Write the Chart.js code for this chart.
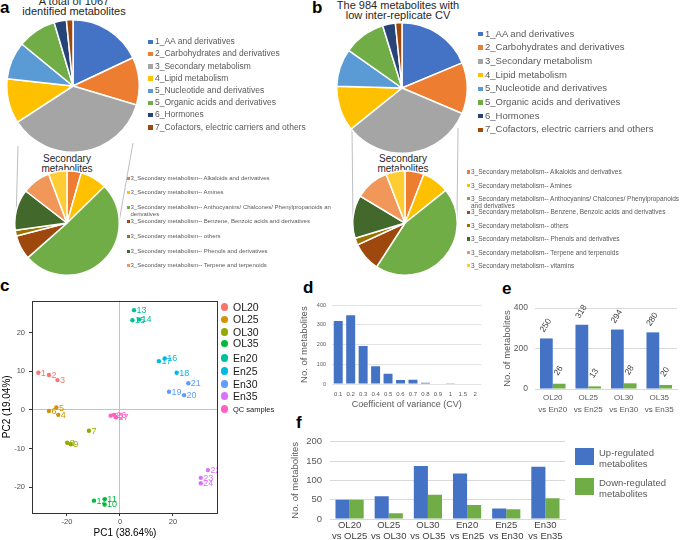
<!DOCTYPE html>
<html>
<head>
<meta charset="utf-8">
<script src="https://cdn.jsdelivr.net/npm/chart.js@4.4.1/dist/chart.umd.min.js"></script>
<style>
  body { margin: 0; width: 685px; height: 540px; position: relative; overflow: hidden; background: #fff;
         font-family: "Liberation Sans", Arial, sans-serif; }
  canvas { position: absolute; }
  .letter { position: absolute; font-weight: bold; font-size: 17px; line-height: 17px; color: #000; }
  .ttl { position: absolute; text-align: center; color: #262626; white-space: nowrap; }
  .lg { position: absolute; white-space: nowrap; color: #595959; }
  .sq { position: absolute; }
  .clip { position: absolute; left: 0; top: 0; overflow: hidden; height: 540px; }
</style>
</head>
<body>
<svg width="685" height="540" style="position:absolute;left:0;top:0">
  <g stroke="#bfbfbf" stroke-width="1" fill="none">
    <line x1="18" y1="146" x2="16" y2="222"/>
    <line x1="133" y1="143" x2="119" y2="222"/>
    <line x1="352" y1="128" x2="353" y2="222"/>
    <line x1="458" y1="128" x2="457" y2="222"/>
  </g>
</svg>

<div class="letter" style="left:0;top:-1px">a</div>
<div class="letter" style="left:312px;top:-1px">b</div>
<div class="letter" style="left:0;top:277px">c</div>
<div class="letter" style="left:303px;top:279px">d</div>
<div class="letter" style="left:502px;top:280px">e</div>
<div class="letter" style="left:296px;top:414px">f</div>

<div class="ttl" style="left:-6px;width:160px;top:-4px;font-size:11px;line-height:10px">A total of 1067<br>identified metabolites</div>
<div class="ttl" style="left:318px;width:160px;top:1px;font-size:11px;line-height:9.5px">The 984 metabolites with<br>low inter-replicate CV</div>
<div class="ttl" style="left:17px;width:100px;top:154px;font-size:10px;line-height:9.5px;background:transparent">Secondary<br>metabolites</div>
<div class="ttl" style="left:353px;width:100px;top:154px;font-size:10px;line-height:9.5px">Secondary<br>metabolites</div>

<script>
// ---- data -------------------------------------------------------------
const mainCategories = ['1_AA and derivatives', '2_Carbohydrates and derivatives', '3_Secondary metabolism',
  '4_Lipid metabolism', '5_Nucleotide and derivatives', '5_Organic acids and derivatives', '6_Hormones',
  '7_Cofactors, electric carriers and others'];
const totalCounts = [192, 124, 386, 117, 98, 101, 32, 17];      // 1067 metabolites
const lowCvCounts = [184, 125, 323, 110, 92, 103, 31, 16];      // 984 metabolites

const secondaryCategories = ['Alkaloids and derivatives', 'Amines',
  'Anthocyanins/ Chalcones/ Phenylpropanoids and derivatives', 'Benzene, Benzoic acids and derivatives',
  'others', 'Phenols and derivatives', 'Terpene and terpenoids', 'vitamins'];
const secondaryTotal = [17, 32, 196, 29, 7, 49, 34, 22];
const secondaryLowCv = [19, 27, 145, 29, 7, 43, 34, 19];

const pcaGroups = ['OL20', 'OL25', 'OL30', 'OL35', 'En20', 'En25', 'En30', 'En35', 'QC samples'];
const sampleIds = ['1','2','3','4','5','6','7','8','9','10','11','12','13','14','15','16','17','18',
  '19','20','21','22','23','24','25','26','27'];
const sampleGroup = [0,0,0, 1,1,1, 2,2,2, 3,3,3, 4,4,4, 5,5,5, 6,6,6, 7,7,7, 8,8,8];
const pc1 = [-30.8, -26.8, -23.6, -23.3, -24.0, -26.8, -11.7, -19.9, -18.6, -5.8, -5.7, -9.8,
  5.3, 7.2, 4.7, 16.9, 14.7, 21.4, 18.5, 24.2, 25.8, 33.2, 30.5, 30.5, -3.5, -2.3, -1.5];
const pc2 = [9.6, 9.0, 7.7, -1.3, 0.6, -0.3, -5.4, -8.5, -8.9, -24.5, -23.1, -23.5,
  25.8, 23.4, 23.2, 13.3, 12.6, 9.6, 4.7, 3.8, 6.9, -15.6, -17.6, -19.0, -1.5, -1.3, -1.9];
const pc1Ticks = [-20, 0, 20];
const pc2Ticks = [-20, -10, 0, 10, 20];

const cvBins = ['0.1','0.2','0.3','0.4','0.5','0.6','0.7','0.8','0.9','1','1.5','2'];
const cvCounts = [320, 350, 193, 90, 52, 20, 21, 6, 3, 1, 2, 2];

const tempPairs = [['OL20','vs En20'], ['OL25','vs En25'], ['OL30','vs En30'], ['OL35','vs En35']];
const pairBlue = [250, 318, 294, 280];
const pairGreen = [26, 13, 28, 20];

const stepPairs = [['OL20','vs OL25'], ['OL25','vs OL30'], ['OL30','vs OL35'],
  ['En20','vs En25'], ['En25','vs En30'], ['En30','vs En35']];
const upRegulated = [50, 59, 137, 118, 27, 135];
const downRegulated = [50, 15, 63, 36, 25, 54];

// ---- styles -----------------------------------------------------------
const mainColors = ['#4472C4', '#ED7D31', '#A5A5A5', '#FFC000', '#5B9BD5', '#70AD47', '#264478', '#9E480E'];
const secColors = ['#ED7D31', '#FFC000', '#70AD47', '#9E480E', '#997300', '#43682B', '#F1975A', '#FFCD33'];
const groupColors = ['#F8766D', '#D39200', '#93AA00', '#00BA38', '#00C19F', '#00B9E3', '#619CFF', '#DB72FB', '#FF61C3'];
const BLUE = '#4472C4', GREEN = '#70AD47', AXIS_TXT = '#595959';

Chart.defaults.font.family = '"Liberation Sans", Arial, sans-serif';
Chart.defaults.animation = false;
Chart.defaults.plugins.legend.display = false;
Chart.defaults.plugins.tooltip.enabled = false;

function place(left, top, w, h) {
  const c = document.createElement('canvas');
  c.width = w; c.height = h;
  c.style.left = left + 'px'; c.style.top = top + 'px';
  c.style.width = w + 'px'; c.style.height = h + 'px';
  document.body.appendChild(c);
  return c;
}

function pie(left, top, size, labels, values, colors) {
  new Chart(place(left, top, size, size), {
    type: 'pie',
    data: { labels: labels, datasets: [{ data: values, backgroundColor: colors, borderColor: '#fff', borderWidth: 1.5 }] },
    options: { responsive: false, layout: { padding: 0 } }
  });
}

// html legends, text stays real text
function legend(names, colors, o) {
  const box = document.createElement('div');
  box.className = 'clip';
  box.style.width = (o.clipRight || 685) + 'px';
  document.body.appendChild(box);
  const lh = o.font * 1.15;
  names.forEach((name, i) => {
    const y = o.y0 + i * o.dy;
    const sq = document.createElement('div');
    sq.className = 'sq';
    Object.assign(sq.style, { left: o.x + 'px', top: (y - o.sq / 2) + 'px', width: o.sq + 'px', height: o.sq + 'px', background: colors[i] });
    box.appendChild(sq);
    name.split('\n').forEach((line, k) => {
      const t = document.createElement('div');
      t.className = 'lg';
      t.textContent = line;
      Object.assign(t.style, { left: o.tx + 'px', top: (y - lh / 2 + k * (o.wrap || 0)) + 'px', fontSize: o.font + 'px', lineHeight: lh + 'px' });
      box.appendChild(t);
    });
  });
}

// ---- panel a / b pies -------------------------------------------------
pie(6, 19, 134, mainCategories, totalCounts, mainColors);
pie(336, 22, 132, mainCategories, lowCvCounts, mainColors);
pie(14, 170, 106, secondaryCategories, secondaryTotal, secColors);
pie(352, 170, 106, secondaryCategories, secondaryLowCv, secColors);

legend(mainCategories, mainColors, { x: 148, tx: 155, y0: 42, dy: 12.2, font: 8.5, sq: 4.5 });
legend(mainCategories, mainColors, { x: 478, tx: 485, y0: 34, dy: 13.7, font: 9.5, sq: 4.5 });

const secPrefix = '3_Secondary metabolism-- ';
const secLegendA = secondaryCategories.slice(0, 7).map(s => secPrefix +
  (s.startsWith('Antho') ? 'Anthocyanins/ Chalcones/ Phenylpropanoids and\nderivatives' : s));
const secLegendB = secondaryCategories.map(s => secPrefix +
  (s.startsWith('Antho') ? 'Anthocyanins/ Chalcones/ Phenylpropanoids\nand derivatives' : s));
legend(secLegendA, secColors, { x: 127, tx: 130.5, y0: 178, dy: 14.6, font: 6, sq: 3, wrap: 7.5, clipRight: 331 });
legend(secLegendB, secColors, { x: 467, tx: 471, y0: 172, dy: 13.4, font: 6.5, sq: 3.3, wrap: 7 });

// ---- panel c PCA ------------------------------------------------------
const frame = {
  id: 'frame',
  afterDraw(chart, args, opts) {
    const a = chart.chartArea, ctx = chart.ctx;
    ctx.save();
    ctx.strokeStyle = opts.color || '#333';
    ctx.lineWidth = 1;
    ctx.strokeRect(Math.round(a.left) + 0.5, Math.round(a.top) + 0.5, Math.round(a.width) - 1, Math.round(a.height) - 1);
    ctx.restore();
  }
};

const pointLabels = {
  id: 'pointLabels',
  afterDatasetsDraw(chart) {
    const a = chart.chartArea, ctx = chart.ctx;
    ctx.save();
    ctx.beginPath();
    ctx.rect(a.left, a.top, a.width, a.height);
    ctx.clip();
    ctx.font = '9px "Liberation Sans", Arial, sans-serif';
    ctx.textBaseline = 'middle';
    chart.data.datasets.forEach((ds, i) => {
      ctx.fillStyle = ds.borderColor;
      chart.getDatasetMeta(i).data.forEach((el, j) => ctx.fillText(ds.data[j].id, el.x + 2.5, el.y + 0.5));
    });
    ctx.restore();
  }
};

const pcaSets = pcaGroups.map((g, gi) => ({
  label: g,
  data: sampleIds.map((id, k) => ({ x: pc1[k], y: pc2[k], id: id, g: sampleGroup[k] })).filter(p => p.g === gi),
  backgroundColor: groupColors[gi],
  borderColor: groupColors[gi],
  pointRadius: 2.2,
  borderWidth: 0
}));

const zeroGrid = c => (c.tick && c.tick.value === 0 ? '#c4c4c4' : 'rgba(0,0,0,0)');
new Chart(place(0, 292, 222, 248), {
  type: 'scatter',
  data: { datasets: pcaSets },
  options: {
    responsive: false,
    layout: { padding: { top: 8, right: 4 } },
    scales: {
      x: {
        type: 'linear', min: -33.2, max: 37,
        afterBuildTicks: s => { s.ticks = pc1Ticks.map(v => ({ value: v })); },
        ticks: { font: { size: 7.5 }, color: '#4d4d4d', padding: 1.5 },
        grid: { color: zeroGrid, tickColor: '#333', tickLength: 3 },
        border: { display: false },
        title: { display: true, text: 'PC1 (38.64%)', font: { size: 10 }, color: '#000', padding: { top: 0, bottom: 1 } },
        afterFit: s => { s.height = 27; }
      },
      y: {
        type: 'linear', min: -26.7, max: 28.3,
        afterBuildTicks: s => { s.ticks = pc2Ticks.map(v => ({ value: v })); },
        ticks: { font: { size: 7.5 }, color: '#4d4d4d', padding: 4 },
        grid: { color: zeroGrid, tickColor: '#333', tickLength: 3 },
        border: { display: false },
        title: { display: true, text: 'PC2 (19.04%)', font: { size: 10 }, color: '#000', padding: { top: 1, bottom: 0 } },
        afterFit: s => { s.width = 32; }
      }
    }
  },
  plugins: [pointLabels, frame]
});

// pca legend
pcaGroups.forEach((g, i) => {
  const y = [307, 319.5, 332, 343.5, 358, 371, 384, 396, 409][i];
  const dot = document.createElement('div');
  Object.assign(dot.style, { position: 'absolute', left: '220.5px', top: (y - 3.7) + 'px', width: '7.4px', height: '7.4px',
    borderRadius: '50%', background: groupColors[i] });
  document.body.appendChild(dot);
  const t = document.createElement('div');
  const fs = i === 8 ? 7.5 : 10.5;
  t.textContent = g;
  Object.assign(t.style, { position: 'absolute', left: '233px', top: (y - fs * 0.6) + 'px', fontSize: fs + 'px',
    lineHeight: (fs * 1.2) + 'px', color: '#1a1a1a', whiteSpace: 'nowrap' });
  document.body.appendChild(t);
});

// ---- panel d CV histogram --------------------------------------------
new Chart(place(290, 296, 194, 115), {
  type: 'bar',
  data: { labels: cvBins, datasets: [{ data: cvCounts, backgroundColor: BLUE, categoryPercentage: 0.8, barPercentage: 0.9 }] },
  options: {
    responsive: false,
    layout: { padding: { top: 6, right: 2 } },
    scales: {
      x: {
        grid: { display: false, drawTicks: false }, border: { display: false },
        ticks: { font: { size: 6 }, color: AXIS_TXT, padding: 7, maxRotation: 0, autoSkip: false },
        title: { display: true, text: 'Coefficient of variance (CV)', font: { size: 9 }, color: AXIS_TXT, padding: { top: 0, bottom: 1.5 } },
        afterFit: s => { s.height = 27; }
      },
      y: {
        min: 0, max: 400,
        ticks: { stepSize: 100, font: { size: 5.5 }, color: AXIS_TXT, padding: 6 },
        grid: { color: '#e3e3e3', drawTicks: false }, border: { display: false },
        title: { display: true, text: 'No. of metabolites', font: { size: 9.5 }, color: AXIS_TXT, padding: { top: 9, bottom: 0 } },
        afterFit: s => { s.width = 42; }
      }
    }
  }
});

// ---- panel e OL vs En -------------------------------------------------
const rotatedLabels = {
  id: 'rotatedLabels',
  afterDatasetsDraw(chart) {
    const ctx = chart.ctx;
    ctx.save();
    ctx.font = '8.5px "Liberation Sans", Arial, sans-serif';
    ctx.fillStyle = '#404040';
    ctx.textAlign = 'center';
    ctx.textBaseline = 'middle';
    chart.data.datasets.forEach((ds, i) => {
      chart.getDatasetMeta(i).data.forEach((el, j) => {
        ctx.save();
        ctx.translate(el.x - 0.5, el.y - 13);
        ctx.rotate(-57 * Math.PI / 180);
        ctx.fillText(String(ds.data[j]), 0, 0);
        ctx.restore();
      });
    });
    ctx.restore();
  }
};

new Chart(place(498, 296, 187, 120), {
  type: 'bar',
  data: {
    labels: tempPairs,
    datasets: [
      { data: pairBlue, backgroundColor: BLUE, categoryPercentage: 0.72, barPercentage: 1 },
      { data: pairGreen, backgroundColor: GREEN, categoryPercentage: 0.72, barPercentage: 1 }
    ]
  },
  options: {
    responsive: false,
    layout: { padding: { top: 8, right: 8 } },
    scales: {
      x: {
        grid: { display: false, drawTicks: false }, border: { display: true, color: '#d9d9d9' },
        ticks: { font: { size: 8, lineHeight: 1.5 }, color: AXIS_TXT, padding: 3, maxRotation: 0, autoSkip: false },
        afterFit: s => { s.height = 27; }
      },
      y: {
        min: 0, max: 400,
        ticks: { stepSize: 200, font: { size: 8.5 }, color: AXIS_TXT, padding: 7 },
        grid: { color: '#d9d9d9', drawTicks: false }, border: { display: false },
        title: { display: true, text: 'No. of metabolites', font: { size: 9.5 }, color: AXIS_TXT, padding: { top: 3.3, bottom: 0 } },
        afterFit: s => { s.width = 37; }
      }
    }
  },
  plugins: [rotatedLabels]
});

// ---- panel f consecutive temperatures --------------------------------
new Chart(place(288, 428, 280, 112), {
  type: 'bar',
  data: {
    labels: stepPairs,
    datasets: [
      { label: 'Up-regulated metabolites', data: upRegulated, backgroundColor: BLUE, categoryPercentage: 0.72, barPercentage: 1 },
      { label: 'Down-regulated metabolites', data: downRegulated, backgroundColor: GREEN, categoryPercentage: 0.72, barPercentage: 1 }
    ]
  },
  options: {
    responsive: false,
    layout: { padding: { top: 6, right: 3 } },
    scales: {
      x: {
        grid: { display: false, drawTicks: false }, border: { display: true, color: '#d9d9d9' },
        ticks: { font: { size: 9.5, lineHeight: 1.25 }, color: '#404040', padding: 0, maxRotation: 0, autoSkip: false },
        afterFit: s => { s.height = 21; }
      },
      y: {
        min: 0, max: 200,
        ticks: { stepSize: 50, font: { size: 9.5 }, color: AXIS_TXT, padding: 8 },
        grid: { color: '#d9d9d9', drawTicks: false }, border: { display: false },
        title: { display: true, text: 'No. of metabolites', font: { size: 9.5 }, color: AXIS_TXT, padding: { top: 1.3, bottom: 0 } },
        afterFit: s => { s.width = 42; }
      }
    }
  }
});

// f legend
[['Up-regulated', 'metabolites'], ['Down-regulated', 'metabolites']].forEach((lines, i) => {
  const top = [448, 478][i];
  const sq = document.createElement('div');
  Object.assign(sq.style, { position: 'absolute', left: '575px', top: top + 'px', width: '19px', height: '17px',
    background: i === 0 ? BLUE : GREEN });
  document.body.appendChild(sq);
  const t = document.createElement('div');
  t.innerHTML = lines.join('<br>');
  Object.assign(t.style, { position: 'absolute', left: '599px', top: (top) + 'px', fontSize: '9.5px',
    lineHeight: '10.5px', color: AXIS_TXT, whiteSpace: 'nowrap' });
  document.body.appendChild(t);
});
</script>
</body>
</html>
